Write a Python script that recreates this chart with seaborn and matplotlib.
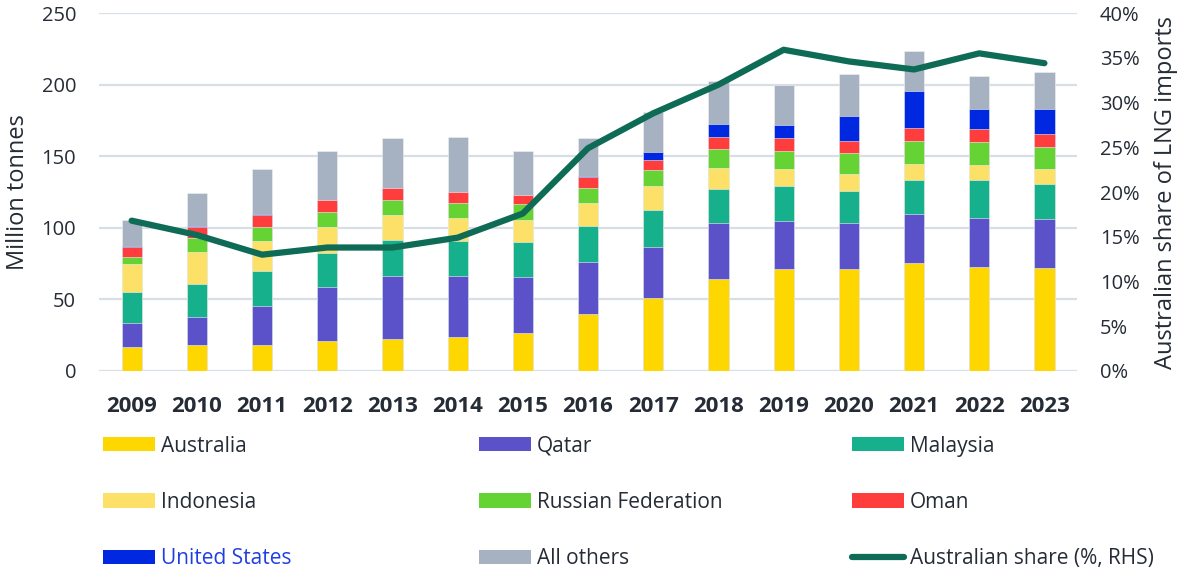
import matplotlib
matplotlib.use("Agg")
import matplotlib.pyplot as plt
from matplotlib.patches import Patch
from matplotlib.lines import Line2D
import numpy as np
import pandas as pd
import seaborn as sns

years = ["2009", "2010", "2011", "2012", "2013", "2014", "2015", "2016",
         "2017", "2018", "2019", "2020", "2021", "2022", "2023"]

# Million tonnes, by exporter
australia = [17.0, 18.4, 17.9, 20.7, 22.1, 23.7, 26.8, 40.0, 51.2, 64.0, 71.2, 71.2, 75.2, 72.8, 71.7]
qatar = [16.7, 19.5, 27.3, 38.2, 44.5, 42.6, 39.1, 36.3, 35.6, 39.6, 33.5, 32.2, 34.7, 34.3, 34.2]
malaysia = [21.7, 22.6, 24.6, 23.5, 25.1, 24.7, 24.4, 24.7, 25.8, 23.5, 24.5, 22.5, 23.7, 26.3, 24.7]
indonesia = [19.3, 22.4, 21.2, 17.9, 17.2, 15.6, 15.4, 16.3, 16.4, 14.7, 11.6, 11.9, 11.0, 10.7, 10.7]
russia = [4.7, 9.8, 9.6, 10.5, 10.3, 10.7, 10.7, 10.7, 11.1, 13.0, 13.0, 14.6, 16.0, 15.6, 15.3]
oman = [7.0, 7.6, 8.3, 8.4, 8.8, 7.7, 6.5, 7.3, 7.0, 8.4, 8.9, 8.2, 8.9, 9.3, 8.9]
united_states = [0.6, 0.7, 0.7, 0.2, 0.0, 0.0, 0.0, 0.9, 5.8, 9.3, 9.3, 17.5, 26.0, 14.0, 17.5]
all_others = [18.2, 23.5, 31.7, 34.4, 34.9, 38.4, 30.7, 26.3, 27.7, 29.8, 27.5, 29.3, 28.0, 23.0, 25.8]

# Australian share of LNG imports (%)
aus_share = [16.8, 15.2, 13.0, 13.8, 13.8, 14.9, 17.6, 24.9, 28.8, 32.0, 35.9, 34.6, 33.7, 35.5, 34.4]

series_names = ["Australia", "Qatar", "Malaysia", "Indonesia",
                "Russian Federation", "Oman", "United States", "All others"]
series_values = [australia, qatar, malaysia, indonesia, russia, oman, united_states, all_others]
colors = ["#FFD700", "#5B51C8", "#16B08C", "#FDE068", "#66D334", "#FF3D3D", "#0028E0", "#A6B2C1"]
line_color = "#0E6B55"
text_color = "#252C36"

sns.set_theme(style="white")
plt.rcParams["font.family"] = ["Open Sans", "DejaVu Sans"]
plt.rcParams["text.color"] = text_color

fig = plt.figure(figsize=(11.79, 5.69), dpi=100)
ax = fig.add_axes([0.084, 0.348, 0.8295, 0.629])

# stacked bars: draw cumulative totals from the top down so each layer covers the one above
df = pd.DataFrame(dict(zip(series_names, series_values)), index=years)
cum = df.cumsum(axis=1)
for name, color in reversed(list(zip(series_names, colors))):
    sns.barplot(x=years, y=cum[name].values, color=color, width=0.31,
                saturation=1, ax=ax, edgecolor="#F2F2F2", linewidth=0.4)

ax.set_ylim(0, 250)
ax.set_xlim(-0.5, 14.5)
ax.set_yticks(range(0, 251, 50))
ax.yaxis.grid(True, color="#D8DEE6", linewidth=1.6)
ax.set_axisbelow(True)
for s in ax.spines.values():
    s.set_visible(False)
ax.tick_params(axis="y", labelsize=14.5, colors=text_color, pad=16.5, length=0)
ax.tick_params(axis="x", labelsize=16, colors=text_color, pad=18, length=0)
for lbl in ax.get_xticklabels():
    lbl.set_fontweight("bold")
ax.set_ylabel("Million tonnes", fontsize=17, color=text_color, labelpad=8)

ax2 = ax.twinx()
sns.lineplot(x=np.arange(len(years)), y=aus_share, ax=ax2, color=line_color,
             linewidth=4.5, solid_capstyle="round")
ax2.set_ylim(0, 40)
ax2.set_xlim(-0.5, 14.5)
ax2.set_yticks(range(0, 41, 5))
ax2.set_yticklabels([f"{v}%" for v in range(0, 41, 5)])
for s in ax2.spines.values():
    s.set_visible(False)
ax2.tick_params(axis="y", labelsize=14.5, colors=text_color, pad=16.5, length=0)
ax2.set_ylabel("Australian share of LNG imports", fontsize=17, color=text_color, labelpad=10)
ax2.grid(False)

# legend: three columns, each its own legend so the column positions match
handles = [Patch(facecolor=c, edgecolor="none") for c in colors]
handles.append(Line2D([0], [0], color=line_color, linewidth=4.5, solid_capstyle="round"))
labels = series_names + ["Australian share (%, RHS)"]
col_x = [0.0802, 0.399, 0.7154]
for i, x0 in enumerate(col_x):
    idx = [i, i + 3, i + 6]
    leg = fig.legend([handles[j] for j in idx], [labels[j] for j in idx],
                     loc="upper left", bbox_to_anchor=(x0, 0.249), frameon=False,
                     fontsize=15, handlelength=2.5, handleheight=0.67,
                     handletextpad=0.29, labelspacing=1.69, borderaxespad=0)
    for j, t in zip(idx, leg.get_texts()):
        t.set_color("#1F3FE0" if labels[j] == "United States" else text_color)

fig.savefig("out.png", dpi=100)
